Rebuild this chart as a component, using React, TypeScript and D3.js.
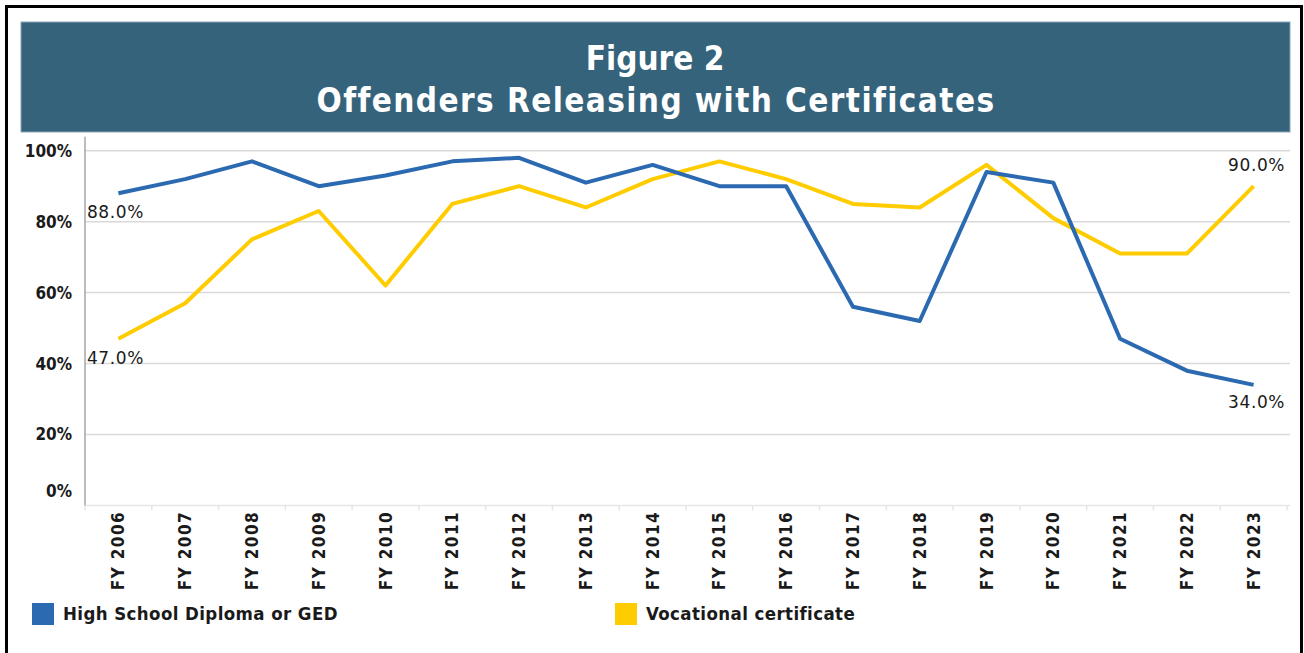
import React from "react";
import * as d3 from "d3";

const categories = ["FY 2006","FY 2007","FY 2008","FY 2009","FY 2010","FY 2011","FY 2012","FY 2013","FY 2014","FY 2015","FY 2016","FY 2017","FY 2018","FY 2019","FY 2020","FY 2021","FY 2022","FY 2023"];
const highSchool = [88, 92, 97, 90, 93, 97, 98, 91, 96, 90, 90, 56, 52, 94, 91, 47, 38, 34];
const vocational = [47, 57, 75, 83, 62, 85, 90, 84, 92, 97, 92, 85, 84, 96, 81, 71, 71, 90];
const yTicks = [0, 20, 40, 60, 80, 100];
const seriesNames = ["High School Diploma or GED", "Vocational certificate"];
const titleLines = ["Figure 2", "Offenders Releasing with Certificates"];

const W = 1304, H = 653;
const BLUE = "#2b69b1";
const YELLOW = "#ffcc00";
const FONT = "'DejaVu Sans Condensed', 'DejaVu Sans', sans-serif";
const FONT2 = "'DejaVu Sans', sans-serif";

export default function App() {
  const left = 85, right = 1287, top = 150.7, bottom = 505.5;
  const x = d3.scaleBand<string>().domain(categories).range([left, right]);
  const y = d3.scaleLinear().domain([0, 100]).range([bottom, top]);
  const cx = (c: string) => (x(c) as number) + x.bandwidth() / 2;
  const line = d3.line<number>().x((_, i) => cx(categories[i])).y((v) => y(v));

  const first = categories[0], last = categories[categories.length - 1];
  const fmt = (v: number) => v.toFixed(1) + "%";
  const lblStyle = { fontFamily: FONT2, fontSize: 17, fill: "#1a1a1a", letterSpacing: 0.6 } as const;

  return (
    <svg width={W} height={H} style={{ position: "absolute", left: 0, top: 0, background: "#fff" }}>
      <rect x={6.5} y={6.5} width={1295} height={660} fill="#fff" stroke="#000" strokeWidth={3} />
      <rect x={21} y={22} width={1269} height={110} fill="#35637c" stroke="#8aa6b8" strokeWidth={1} />
      <text x={655} y={70} textAnchor="middle" fill="#fff" fontFamily={FONT} fontWeight="bold" fontSize={33}>{titleLines[0]}</text>
      <text x={656} y={112} textAnchor="middle" fill="#fff" fontFamily={FONT} fontWeight="bold" fontSize={33} letterSpacing={1.4}>{titleLines[1]}</text>

      {yTicks.filter((t) => t > 0).map((t) => (
        <line key={"g" + t} x1={left} x2={1290} y1={y(t)} y2={y(t)} stroke="#d9d9d9" strokeWidth={1.5} />
      ))}
      <line x1={left} x2={1290} y1={bottom} y2={bottom} stroke="#e6e6e6" strokeWidth={1.5} />
      {categories.map((c) => (
        <line key={"t" + c} x1={x(c) as number} x2={x(c) as number} y1={bottom} y2={bottom + 5} stroke="#e6e6e6" strokeWidth={1.5} />
      ))}
      <line x1={right} x2={right} y1={bottom} y2={bottom + 5} stroke="#e6e6e6" strokeWidth={1.5} />
      <line x1={left} x2={left} y1={top - 14} y2={bottom} stroke="#a6a6a6" strokeWidth={1.5} />

      {yTicks.map((t) => (
        <text key={"yl" + t} x={72} y={y(t) + (t === 0 ? -14 : 0)} dy="0.35em" textAnchor="end" fontFamily={FONT} fontWeight="bold" fontSize={17} fill="#1a1a1a">{t}%</text>
      ))}

      {categories.map((c) => (
        <text key={"xl" + c} transform={`translate(${cx(c) + 6},511) rotate(-90)`} textAnchor="end" fontFamily={FONT} fontWeight="bold" fontSize={17} fill="#1a1a1a" letterSpacing={1.4}>{c}</text>
      ))}

      <path d={line(vocational) || ""} fill="none" stroke={YELLOW} strokeWidth={4} strokeLinejoin="round" />
      <path d={line(highSchool) || ""} fill="none" stroke={BLUE} strokeWidth={4} strokeLinejoin="round" />

      <text x={cx(first) - 3} y={y(highSchool[0]) + 19} dy="0.35em" textAnchor="middle" {...lblStyle}>{fmt(highSchool[0])}</text>
      <text x={cx(first) - 3} y={y(vocational[0]) + 19} dy="0.35em" textAnchor="middle" {...lblStyle}>{fmt(vocational[0])}</text>
      <text x={cx(last) + 3} y={y(vocational[vocational.length - 1]) - 21} dy="0.35em" textAnchor="middle" {...lblStyle}>{fmt(vocational[vocational.length - 1])}</text>
      <text x={cx(last) + 3} y={y(highSchool[highSchool.length - 1]) + 17} dy="0.35em" textAnchor="middle" {...lblStyle}>{fmt(highSchool[highSchool.length - 1])}</text>

      <rect x={32} y={603} width={22} height={22} fill={BLUE} />
      <text x={63} y={614} dy="0.35em" fontFamily={FONT} fontWeight="bold" fontSize={18.5} fill="#1a1a1a" letterSpacing={0.4}>{seriesNames[0]}</text>
      <rect x={615} y={603} width={22} height={22} fill={YELLOW} />
      <text x={646} y={614} dy="0.35em" fontFamily={FONT} fontWeight="bold" fontSize={18.5} fill="#1a1a1a" letterSpacing={0.4}>{seriesNames[1]}</text>
    </svg>
  );
}
